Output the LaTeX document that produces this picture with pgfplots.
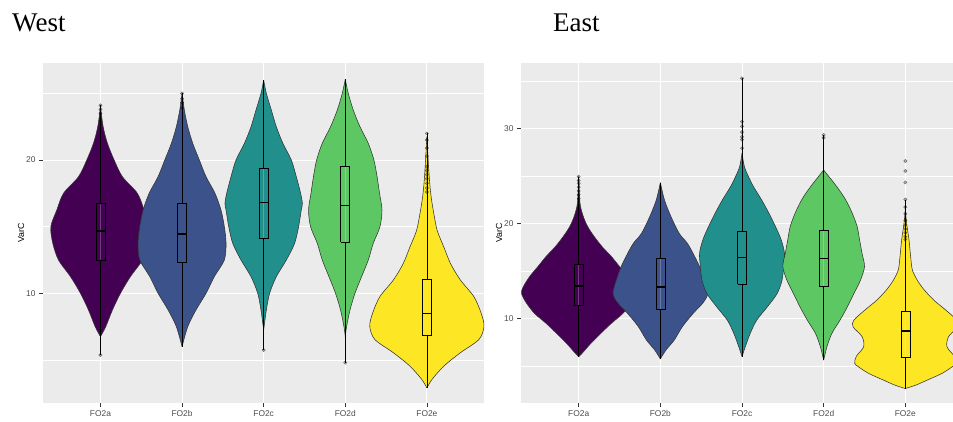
\documentclass[border=0pt]{standalone}
\usepackage{fontspec}
\setmainfont{Liberation Serif}
\newfontfamily\arial{Liberation Sans}
\usepackage{pgfplots}
\usepackage{pgfplotstable}
\pgfplotsset{compat=1.18}

\definecolor{v1}{HTML}{440154}
\definecolor{v2}{HTML}{3B528B}
\definecolor{v3}{HTML}{21908C}
\definecolor{v4}{HTML}{5DC863}
\definecolor{v5}{HTML}{FDE725}
\definecolor{panel}{HTML}{EBEBEB}
\definecolor{grey30}{HTML}{4D4D4D}
\definecolor{grey20}{HTML}{333333}

% ---------- West violins: y, half-width ----------
\pgfplotstableread{
y w
6.75 0
7.5 0.065
8.75 0.147
10 0.245
11.25 0.367
12.5 0.514
13.75 0.584
15 0.608
16.25 0.535
17.5 0.453
18.75 0.269
20 0.168
21.25 0.086
22.5 0.033
24.0 0
}\WA
\pgfplotstableread{
y w
6.0 0
7.5 0.07
8.75 0.171
10 0.294
11.25 0.395
12.5 0.518
13.75 0.539
15 0.518
16.25 0.477
17.5 0.404
18.75 0.294
20 0.212
21.25 0.131
22.5 0.07
23.75 0.028
25.0 0
}\WB
\pgfplotstableread{
y w
7.25 0
8.75 0.033
10 0.073
11.25 0.155
12.5 0.278
13.75 0.379
15 0.428
16.25 0.461
16.75 0.474
17.5 0.453
18.75 0.40
20 0.339
21.25 0.236
22.5 0.155
23.75 0.094
25 0.033
26 0
}\WC
\pgfplotstableread{
y w
6.75 0
7.5 0.016
8.75 0.058
10 0.119
11.25 0.20
12.5 0.282
13.75 0.343
15 0.425
16.25 0.45
17.5 0.42
18.75 0.39
20 0.351
21.25 0.282
22.5 0.18
23.75 0.098
25 0.037
26.05 0
}\WD
\pgfplotstableread{
y w
2.9 0
3.56 0.065
4.55 0.21
5.54 0.41
6.53 0.637
7.52 0.70
8.51 0.665
9.75 0.576
11.0 0.41
12.23 0.29
13.47 0.208
14.7 0.127
15.94 0.086
17.2 0.053
18.4 0.033
20 0.016
21.75 0
}\WE
% ---------- East violins ----------
\pgfplotstableread{
y w
5.96 0
6.3 0.04
7.37 0.15
8.4 0.27
9.47 0.40
10.5 0.54
11.6 0.64
12.6 0.70
13.3 0.68
14.4 0.60
15.44 0.50
16.5 0.40
17.5 0.29
18.6 0.19
19.65 0.11
20.7 0.057
22.1 0.016
24.9 0
}\EA
\pgfplotstableread{
y w
5.72 0
6.67 0.07
7.7 0.17
9.12 0.27
10.5 0.40
11.6 0.52
12.6 0.58
14.0 0.54
15.44 0.48
16.84 0.40
17.9 0.33
18.95 0.23
20.7 0.13
22.46 0.05
24.28 0
}\EB
\pgfplotstableread{
y w
5.96 0
7.0 0.04
8.4 0.10
9.8 0.18
11.2 0.31
12.6 0.43
14.0 0.49
15.44 0.51
16.84 0.52
18.25 0.48
19.65 0.41
21.05 0.33
22.46 0.24
23.86 0.14
24.9 0.08
25.96 0.029
27.37 0
}\EC
\pgfplotstableread{
y w
5.6 0
7.0 0.04
8.4 0.10
9.8 0.20
11.2 0.29
12.6 0.37
14.0 0.45
15.44 0.50
16.84 0.47
18.25 0.44
19.65 0.41
21.05 0.35
22.46 0.27
23.86 0.16
25.6 0
}\ED
\pgfplotstableread{
y w
2.6 0
2.97 0.13
3.5 0.27
4.2 0.45
4.9 0.575
5.26 0.62
6.0 0.60
7.0 0.51
8.07 0.53
9.1 0.64
9.8 0.63
10.9 0.49
11.9 0.35
13.0 0.23
14.0 0.147
15.1 0.086
16.5 0.065
18.25 0.045
20 0.016
21.5 0
}\EE

% violin: each half is closed back along the centre line (w=0 at both ends)
\newcommand{\violin}[3]{%
  \addplot[fill=#3, draw=none, smooth, tension=0.5] table[x expr=#1+\thisrow{w}, y=y] {#2} -- cycle;
  \addplot[fill=#3, draw=none, smooth, tension=0.5] table[x expr=#1-\thisrow{w}, y=y] {#2} -- cycle;
  \addplot[draw=grey20, line width=0.55pt, smooth, tension=0.5] table[x expr=#1+\thisrow{w}, y=y] {#2};
  \addplot[draw=grey20, line width=0.55pt, smooth, tension=0.5] table[x expr=#1-\thisrow{w}, y=y] {#2};
}
% box: pos, left, right, lower whisker, Q1, median, Q3, upper whisker
\newcommand{\bx}[8]{%
  \addplot[black, line width=0.55pt] coordinates {(#1,#4) (#1,#5)};
  \addplot[black, line width=0.55pt] coordinates {(#1,#7) (#1,#8)};
  \addplot[black, line width=0.6pt] coordinates {(#2,#5) (#3,#5) (#3,#7) (#2,#7) (#2,#5)};
  \addplot[black, line width=1.3pt] coordinates {(#2,#6) (#3,#6)};
}

\pgfplotsset{
  ggpanel/.style={
    scale only axis, height=340pt,
    axis background/.style={fill=panel},
    axis line style={draw=none},
    xmajorgrids, ymajorgrids, yminorgrids,
    major grid style={white, line width=1pt},
    minor grid style={white, line width=0.5pt},
    xtick={1,2,3,4,5}, xticklabels={FO2a,FO2b,FO2c,FO2d,FO2e},
    xtick pos=left, ytick pos=left,
    tick align=outside, major tick length=4pt, minor tick length=0pt,
    tick style={grey20, line width=0.5pt},
    ticklabel style={font=\arial\fontsize{8.4}{10}\selectfont, text=grey30},
    /pgf/number format/assume math mode=true,
  },
  outl/.style={only marks, mark=*, mark size=1.7pt,
      mark options={fill=black, fill opacity=0.3, draw=black, draw opacity=0.45, line width=0.4pt}},
}

\begin{document}
\begin{tikzpicture}
\path[use as bounding box] (0,0) rectangle (953pt,-421pt);

\node[anchor=base west, inner sep=0, font=\fontsize{27}{30}\selectfont] at (12pt,-31pt) {West};
\node[anchor=base west, inner sep=0, font=\fontsize{27}{30}\selectfont] at (553pt,-31pt) {East};

% ---------------- West ----------------
\begin{axis}[ggpanel, at={(43pt,-403pt)}, anchor=south west, width=441pt,
  xmin=0.296, xmax=5.70, ymin=1.77, ymax=27.28,
  ytick={10,20}, minor ytick={5,15,25}]
\violin{1}{\WA}{v1}
\violin{2}{\WB}{v2}
\violin{3}{\WC}{v3}
\violin{4}{\WD}{v4}
\violin{5}{\WE}{v5}
\bx{1}{0.945}{1.055}{5.37}{12.5}{14.67}{16.75}{24.1}
\bx{2}{1.945}{2.055}{6.0}{12.3}{14.45}{16.75}{25.0}
\bx{3}{2.945}{3.055}{5.75}{14.1}{16.8}{19.37}{26.0}
\bx{4}{3.945}{4.055}{4.8}{13.83}{16.57}{19.5}{26.05}
\bx{5}{4.945}{5.055}{2.9}{6.83}{8.51}{11.04}{22.0}
\addplot[outl] coordinates {(1,5.37) (1,23.5) (1,23.8) (1,24.1)
  (2,23.9) (2,24.3) (2,24.6) (2,25.0)
  (3,5.75) (4,4.8)
  (5,17.6) (5,17.9) (5,18.25) (5,18.6) (5,18.9) (5,19.2) (5,19.5) (5,20.3) (5,20.9) (5,21.5) (5,22.0)};
\end{axis}

% ---------------- East ----------------
\begin{axis}[ggpanel, at={(521pt,-403pt)}, anchor=south west, width=432pt,
  xmin=0.2933, xmax=5.584, ymin=1.08, ymax=36.87,
  ytick={10,20,30}, minor ytick={5,15,25,35}]
\violin{1}{\EA}{v1}
\violin{2}{\EB}{v2}
\violin{3}{\EC}{v3}
\violin{4}{\ED}{v4}
\violin{5}{\EE}{v5}
\bx{1}{0.945}{1.055}{5.96}{11.35}{13.4}{15.68}{24.9}
\bx{2}{1.945}{2.055}{5.72}{10.97}{13.3}{16.3}{24.28}
\bx{3}{2.945}{3.055}{5.96}{13.58}{16.39}{19.12}{35.26}
\bx{4}{3.945}{4.055}{5.6}{13.4}{16.3}{19.3}{29.3}
\bx{5}{4.945}{5.055}{2.6}{5.9}{8.67}{10.77}{22.5}
\addplot[outl] coordinates {(1,22.6) (1,23.0) (1,23.4) (1,23.8) (1,24.2) (1,24.5) (1,24.9)
  (3,27.9) (3,28.8) (3,29.1) (3,29.6) (3,30.2) (3,30.7) (3,35.26)
  (4,29.0) (4,29.3)
  (5,18.3) (5,18.6) (5,19.0) (5,19.4) (5,19.8) (5,20.3) (5,21.0) (5,21.7) (5,22.5) (5,24.3) (5,25.5) (5,26.56)};
\end{axis}

\node[rotate=90, font=\arial\fontsize{8.8}{10}\selectfont] at (21pt,-233pt) {VarC};
\node[rotate=90, font=\arial\fontsize{8.8}{10}\selectfont] at (499pt,-233pt) {VarC};
\end{tikzpicture}
\end{document}
